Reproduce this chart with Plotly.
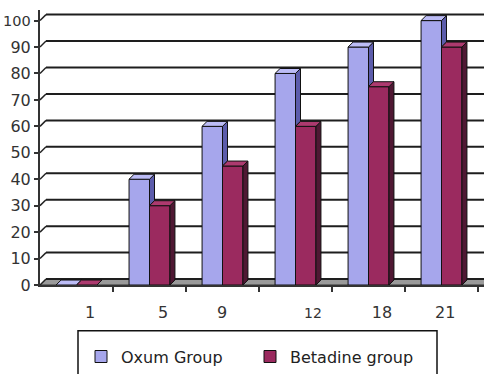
import plotly.graph_objects as go

# --- data -------------------------------------------------------------
days = ["1", "5", "9", "12", "18", "21"]
oxum = [0, 40, 60, 80, 90, 100]
betadine = [0, 30, 45, 60, 75, 90]
y_ticks = [0, 10, 20, 30, 40, 50, 60, 70, 80, 90, 100]

# --- layout geometry --------------------------------------------------
W, H = 484, 374
M_L, M_R, M_T, M_B = 40, 0, 10, 87
X_RANGE = [-0.5, 5.582]
Y_RANGE = [0, 104.0]
px_x = (W - M_L - M_R) / (X_RANGE[1] - X_RANGE[0])   # px per category
px_y = (H - M_T - M_B) / (Y_RANGE[1] - Y_RANGE[0])   # px per unit

BAR_W = 0.28                           # width of one column (category units)
BAR_DX, BAR_DY = 5 / px_x, 5 / px_y    # column depth
WALL_DX, WALL_DY = 6 / px_x, 6 / px_y  # back wall offset
label_nudge = [0.185, 0.185, -0.005, 0.24, 0.185, 0.05]

OX_FRONT, OX_TOP, OX_SIDE = "#a6a6ec", "#bcbcf6", "#5c5cab"
BE_FRONT, BE_TOP, BE_SIDE = "#9b2a5f", "#ad3a6f", "#4f1833"
FONT = "DejaVu Sans, Verdana, sans-serif"

idx = list(range(len(days)))
fig = go.Figure()

fig.add_trace(go.Bar(x=idx, y=oxum, width=BAR_W, offset=-BAR_W, name="Oxum Group",
                     marker=dict(color=OX_FRONT, line=dict(color="#111", width=1))))
fig.add_trace(go.Bar(x=idx, y=betadine, width=BAR_W, offset=0, name="Betadine group",
                     marker=dict(color=BE_FRONT, line=dict(color="#111", width=1))))


def face(xs, ys, color):
    fig.add_trace(go.Scatter(x=xs, y=ys, mode="lines", fill="toself", fillcolor=color,
                             line=dict(color="#111", width=1), hoverinfo="skip",
                             showlegend=False))


# depth faces of each column pair: Oxum first, Betadine drawn over it
for i, (a, b) in enumerate(zip(oxum, betadine)):
    L, R = i - BAR_W, i
    if a > b:
        face([R, R, R + BAR_DX, R + BAR_DX, R], [b, a, a + BAR_DY, b + BAR_DY, b], OX_SIDE)
    face([L, L + BAR_DX, R + BAR_DX, R, L], [a, a + BAR_DY, a + BAR_DY, a, a], OX_TOP)
    L2, R2 = i, i + BAR_W
    if b > 0:
        face([R2, R2, R2 + BAR_DX, R2 + BAR_DX, R2], [0, b, b + BAR_DY, BAR_DY, 0], BE_SIDE)
    face([L2, L2 + BAR_DX, R2 + BAR_DX, R2, L2], [b, b + BAR_DY, b + BAR_DY, b, b], BE_TOP)

shapes = []
# floor
x0, x1 = X_RANGE[0], X_RANGE[1] + 1
shapes.append(dict(type="path", xref="x", yref="y", layer="below",
                   path=f"M {x0},0 L {x0 + WALL_DX},{WALL_DY} L {x1},{WALL_DY} L {x1},0 Z",
                   fillcolor="#9a9a9a", line=dict(color="#333", width=1)))
# back-wall gridlines with their connectors to the axis
for v in y_ticks:
    shapes.append(dict(type="line", xref="x", yref="y", layer="below",
                       x0=x0 + WALL_DX, x1=x1, y0=v + WALL_DY, y1=v + WALL_DY,
                       line=dict(color="#1e1e1e", width=2)))
    shapes.append(dict(type="line", xref="x", yref="y", layer="below",
                       x0=x0, x1=x0 + WALL_DX, y0=v, y1=v + WALL_DY,
                       line=dict(color="#222", width=1.5)))
# legend frame
shapes.append(dict(type="rect", xref="paper", yref="paper",
                   x0=(78 - M_L) / (W - M_L - M_R), x1=(437 - M_L) / (W - M_L - M_R),
                   y0=(H - M_B - 333) / (H - M_T - M_B), y1=(H - M_B - 385) / (H - M_T - M_B),
                   line=dict(color="#111", width=1.5), fillcolor="rgba(0,0,0,0)"))

fig.update_layout(
    width=W, height=H,
    margin=dict(l=M_L, r=M_R, t=M_T, b=M_B),
    paper_bgcolor="white", plot_bgcolor="white",
    barmode="overlay",
    shapes=shapes,
    font=dict(family=FONT, size=16, color="#333"),
    showlegend=True,
    legend=dict(orientation="h", x=(81 - M_L) / (W - M_L - M_R), xanchor="left",
                y=(H - M_B - 342) / (H - M_T - M_B), yanchor="top",
                font=dict(family=FONT, size=16, color="#222"),
                entrywidth=124, entrywidthmode="pixels",
                bgcolor="rgba(0,0,0,0)", borderwidth=0),
    xaxis=dict(range=X_RANGE, showgrid=False, zeroline=False,
               showline=True, linecolor="#333", linewidth=1.5,
               tickmode="array",
               tickvals=[i + d for i, d in zip(idx, label_nudge)],
               ticktext=[d if d != "12" else "<span style='font-size:14px'>12</span>" for d in days],
               ticks="", ticklabelstandoff=12,
               minor=dict(tickmode="array", tickvals=[i + 0.5 for i in idx],
                          ticks="outside", ticklen=5, tickcolor="#333", tickwidth=1.5)),
    yaxis=dict(range=Y_RANGE, showgrid=False, zeroline=False,
               showline=True, linecolor="#333", linewidth=2,
               tickmode="array", tickvals=y_ticks,
               ticktext=[str(v) if v < 100 else "<span style='font-size:14.5px'>100</span>"
                         for v in y_ticks],
               ticks="outside", ticklen=4, tickcolor="#333", tickwidth=1.5,
               ticklabelstandoff=0),
)

fig.write_html("out.html")
